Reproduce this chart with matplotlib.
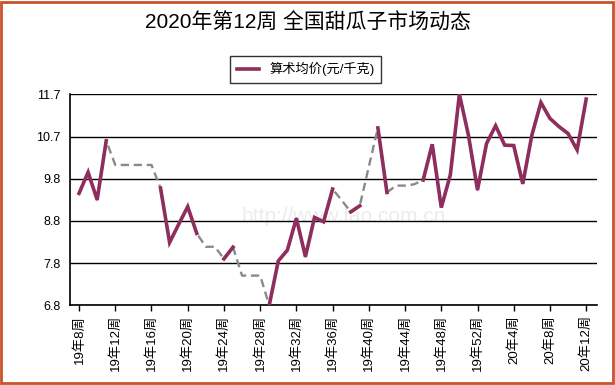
import numpy as np
import matplotlib
matplotlib.use('Agg')
import matplotlib.pyplot as plt
from matplotlib.patches import Rectangle

plt.rcParams['font.family'] = ['Liberation Sans', 'Noto Sans CJK SC', 'DejaVu Sans']

# 周次：19年8周 ~ 19年52周，20年1周 ~ 20年12周
weeks = ['19年%d周' % w for w in range(8, 53)] + ['20年%d周' % w for w in range(1, 13)]

# 算术均价(元/千克)，缺失周用灰色虚线补齐
price = [9.40, 9.89, 9.25, 10.62, 10.06, 10.06, 10.06, 10.06, 10.06, 9.52,
         8.26, 8.68, 9.09, 8.47, 8.16, 8.16, 7.88, 8.15, 7.49, 7.49,
         7.49, 6.80, 7.83, 8.08, 8.82, 7.93, 8.84, 8.74, 9.50, 9.24,
         8.97, 9.11, 10.02, 10.92, 9.42, 9.58, 9.58, 9.61, 9.71, 10.54,
         9.07, 9.83, 11.70, 10.75, 9.48, 10.56, 10.97, 10.52, 10.51, 9.62,
         10.75, 11.51, 11.14, 10.95, 10.79, 10.41, 11.59]
missing = [4, 5, 6, 7, 8, 14, 15, 18, 19, 20, 29, 32, 35, 36, 37]

yticks = [6.8, 7.8, 8.8, 9.8, 10.7, 11.7]

x = np.arange(len(weeks))
solid = np.array(price, dtype=float)
solid[missing] = np.nan

fig = plt.figure(figsize=(6.15, 3.85), dpi=100)
ax = fig.add_axes([0.1138, 0.207, 0.857, 0.548])

ax.plot(x, price, color='#8a8a8a', lw=1.7, ls=(0, (3.5, 2)), zorder=3)
ax.plot(x, solid, color='#8e2d5e', lw=2.6, zorder=4, label='算术均价(元/千克)',
        solid_joinstyle='miter')

ax.set_xlim(-1, len(weeks) + 0.2)
ax.set_ylim(6.8, 11.7)
ax.set_yticks(np.linspace(6.8, 11.7, 6))
ax.set_yticklabels(['%.1f' % v for v in yticks], fontsize=9)
ax.yaxis.grid(True, color='black', lw=1)
ax.tick_params(axis='y', length=0, pad=7)

ax.set_xticks(x[::4])
ax.set_xticklabels(weeks[::4], rotation=90, fontsize=9.5)
ax.tick_params(axis='x', length=4, width=1, pad=3)

for s in ['top', 'right']:
    ax.spines[s].set_visible(False)
ax.spines['left'].set_linewidth(1.2)
ax.spines['bottom'].set_linewidth(1.2)

# 水印
ax.text(0.52, 0.42, 'http://www.fao.com.cn', transform=ax.transAxes, fontsize=15,
        color='#ececec', ha='center', va='center', zorder=1)

fig.text(0.5, 0.94, '2020年第12周 全国甜瓜子市场动态', ha='center', va='center', fontsize=15)
leg = fig.legend(loc='center', bbox_to_anchor=(0.497, 0.82), fontsize=9.5, frameon=True,
                 fancybox=False, edgecolor='black', handlelength=1.7, borderpad=0.5)
leg.get_frame().set_linewidth(1)

fig.patches.append(Rectangle((0.0015, 0.006), 0.995, 0.99, transform=fig.transFigure,
                             fill=False, edgecolor='#c9532a', lw=2))

plt.savefig('out.png', dpi=100)
